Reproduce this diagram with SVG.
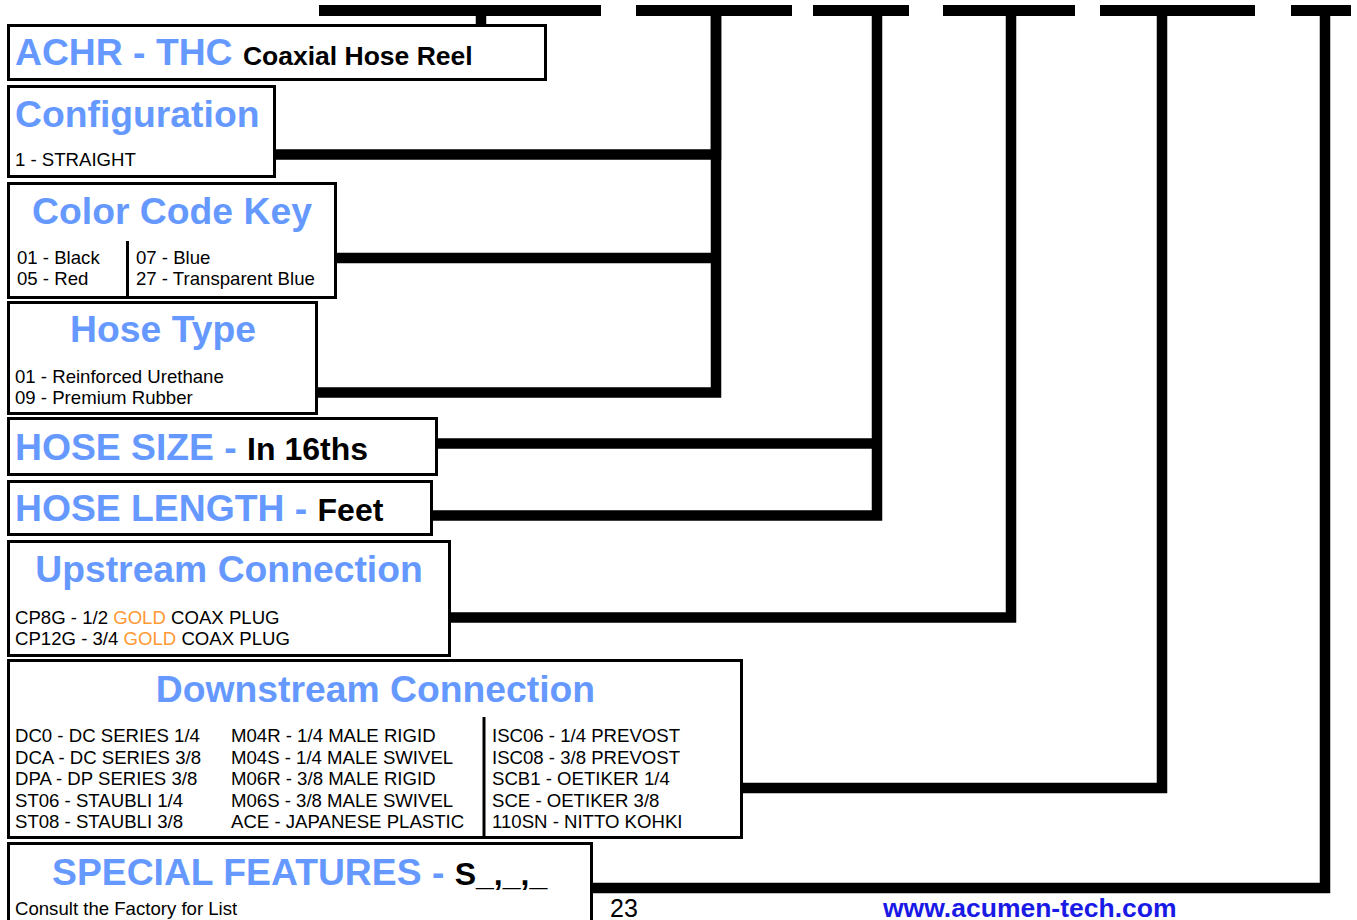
<svg xmlns="http://www.w3.org/2000/svg" width="1357" height="920" viewBox="0 0 1357 920">
<style>
.box{fill:#fff;stroke:#000;stroke-width:3}
.div{stroke:#000;stroke-width:3}
.con{fill:none;stroke:#000;stroke-width:10.5;stroke-linejoin:miter;stroke-linecap:butt}
.bar{fill:#000}
text{font-family:"Liberation Sans",Arial,sans-serif}
.h{font-weight:bold;font-size:37.3px;fill:#6699ff}
.hb{font-weight:bold;fill:#000}
.t{font-size:18.6px;fill:#000}
.gold{fill:#ff9933}
</style>
<rect width="1357" height="920" fill="#fff"/>
<g id="connectors">
<rect class="bar" x="319" y="5" width="282" height="11"/>
<rect class="bar" x="636" y="5" width="156" height="11"/>
<rect class="bar" x="813" y="5" width="96" height="11"/>
<rect class="bar" x="943" y="5" width="132" height="11"/>
<rect class="bar" x="1100" y="5" width="155" height="11"/>
<rect class="bar" x="1291" y="5" width="60" height="11"/>
<path class="con" d="M481,10 V25"/>
<path class="con" d="M276,154.5 H716 V10"/>
<path class="con" d="M337,258 H716"/>
<path class="con" d="M318,392.5 H716 V10"/>
<path class="con" d="M438,443.5 H877"/>
<path class="con" d="M433,515.5 H877 V10"/>
<path class="con" d="M451,617.5 H1011 V10"/>
<path class="con" d="M743,788 H1162 V10"/>
<path class="con" d="M593,888 H1325 V10"/>
</g>
<g id="title">
<rect class="box" x="8.5" y="25.5" width="537" height="54"/>
<text x="15" y="65"><tspan class="h">ACHR - THC </tspan><tspan class="hb" font-size="26.5">Coaxial Hose Reel</tspan></text>
</g>
<g id="configuration">
<rect class="box" x="8.5" y="86.5" width="266" height="90"/>
<text class="h" x="15" y="127">Configuration</text>
<text class="t" x="15" y="166">1 - STRAIGHT</text>
</g>
<g id="color-code-key">
<rect class="box" x="8.5" y="183.5" width="327" height="114"/>
<line class="div" x1="127.5" y1="241" x2="127.5" y2="297"/>
<text class="h" x="172" y="224" text-anchor="middle">Color Code Key</text>
<text class="t" x="17" y="264">01 - Black</text>
<text class="t" x="17" y="285">05 - Red</text>
<text class="t" x="136" y="264">07 - Blue</text>
<text class="t" x="136" y="285">27 - Transparent Blue</text>
</g>
<g id="hose-type">
<rect class="box" x="8.5" y="302.5" width="308" height="111"/>
<text class="h" x="163" y="342" text-anchor="middle">Hose Type</text>
<text class="t" x="15" y="383">01 - Reinforced Urethane</text>
<text class="t" x="15" y="404">09 - Premium Rubber</text>
</g>
<g id="hose-size">
<rect class="box" x="8.5" y="418.5" width="428" height="56"/>
<text x="15" y="460"><tspan class="h">HOSE SIZE - </tspan><tspan class="hb" font-size="32">In 16ths</tspan></text>
</g>
<g id="hose-length">
<rect class="box" x="8.5" y="481.5" width="423" height="53"/>
<text x="15" y="521"><tspan class="h">HOSE LENGTH - </tspan><tspan class="hb" font-size="32">Feet</tspan></text>
</g>
<g id="upstream-connection">
<rect class="box" x="8.5" y="541.5" width="441" height="114"/>
<text class="h" x="229" y="582" text-anchor="middle">Upstream Connection</text>
<text class="t" x="15" y="624">CP8G - 1/2 <tspan class="gold">GOLD</tspan> COAX PLUG</text>
<text class="t" x="15" y="645">CP12G - 3/4 <tspan class="gold">GOLD</tspan> COAX PLUG</text>
</g>
<g id="downstream-connection">
<rect class="box" x="8.5" y="660.5" width="733" height="177"/>
<line class="div" x1="484" y1="717" x2="484" y2="837"/>
<text class="h" x="375.5" y="702" text-anchor="middle">Downstream Connection</text>
<text class="t" x="15" y="742">DC0 - DC SERIES 1/4</text>
<text class="t" x="15" y="763.5">DCA - DC SERIES 3/8</text>
<text class="t" x="15" y="785">DPA - DP SERIES 3/8</text>
<text class="t" x="15" y="806.5">ST06 - STAUBLI 1/4</text>
<text class="t" x="15" y="828">ST08 - STAUBLI 3/8</text>
<text class="t" x="231" y="742">M04R - 1/4 MALE RIGID</text>
<text class="t" x="231" y="763.5">M04S - 1/4 MALE SWIVEL</text>
<text class="t" x="231" y="785">M06R - 3/8 MALE RIGID</text>
<text class="t" x="231" y="806.5">M06S - 3/8 MALE SWIVEL</text>
<text class="t" x="231" y="828">ACE - JAPANESE PLASTIC</text>
<text class="t" x="492" y="742">ISC06 - 1/4 PREVOST</text>
<text class="t" x="492" y="763.5">ISC08 - 3/8 PREVOST</text>
<text class="t" x="492" y="785">SCB1 - OETIKER 1/4</text>
<text class="t" x="492" y="806.5">SCE - OETIKER 3/8</text>
<text class="t" x="492" y="828">110SN - NITTO KOHKI</text>
</g>
<g id="special-features">
<rect class="box" x="8.5" y="843.5" width="583" height="90"/>
<text x="52" y="885"><tspan class="h">SPECIAL FEATURES - </tspan><tspan class="hb" font-size="32">S_,_,_</tspan></text>
<text class="t" x="15" y="915">Consult the Factory for List</text>
</g>
<g id="footer">
<text x="610" y="917" font-size="25" fill="#000">23</text>
<text x="883" y="917" font-size="26.5" font-weight="bold" fill="#1a1ae6">www.acumen-tech.com</text>
</g>
</svg>
